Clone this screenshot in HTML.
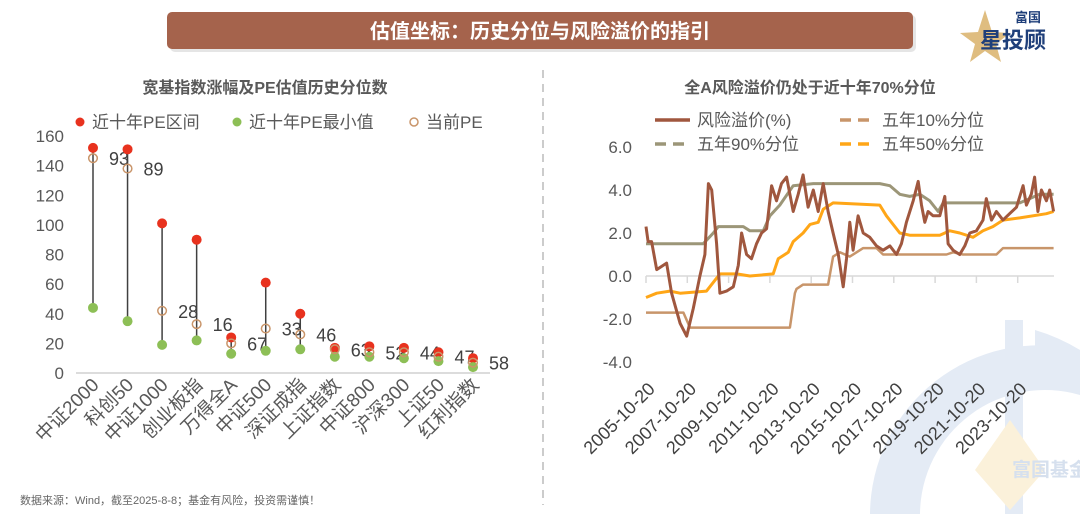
<!DOCTYPE html>
<html><head><meta charset="utf-8">
<style>
body{margin:0;width:1080px;height:514px;overflow:hidden;background:#fff;font-family:"Liberation Sans","Noto Sans CJK SC",sans-serif;}
svg{position:absolute;left:0;top:0}
</style></head>
<body>
<svg id="s" width="1080" height="514" viewBox="0 0 1080 514" xmlns="http://www.w3.org/2000/svg">
<g>
<path d="M870,514 A170,170 0 0 1 1080,350 L1080,395 A125,125 0 0 0 920,514 Z" fill="#E4EBF5"/>
<rect x="1005" y="320" width="18" height="194" fill="#E4EBF5"/>
<path d="M1035,330 A190,190 0 0 1 1080,350 L1080,380 A170,170 0 0 0 1035,360 Z" fill="#E4EBF5"/>
<path d="M1010,420 L1045,470 L1010,510 L975,470 Z" fill="#FBF1DA"/>
<text x="1012" y="476" font-size="19" font-weight="bold" fill="#D6E0EE" font-family="Liberation Sans, Noto Sans CJK SC, sans-serif">富国基金</text>
</g>
<g>
<rect x="170" y="15" width="746" height="37" rx="5" fill="#ccc" opacity="0.5"/>
<rect x="167" y="12" width="746" height="37" rx="5" fill="#A5634C"/>
<text x="540" y="38" text-anchor="middle" font-size="20" font-weight="bold" fill="#fff">估值坐标：历史分位与风险溢价的指引</text>
</g>
<g>
<path d="M985,10 L992,32 L1010,33 L996,44 L1001,62 L985,51 L970,62 L975,44 L960,33 L978,32 Z" fill="#D9B26A" opacity="0.85"/>
<text x="1015" y="22" font-size="13" font-weight="bold" fill="#1F3F7A">富国</text>
<text x="980" y="48" font-size="22" font-weight="bold" fill="#1F3F7A">星投顾</text>
</g>
<line x1="543" y1="70" x2="543" y2="505" stroke="#bbb" stroke-width="1.5" stroke-dasharray="8,6"/>
<text x="265" y="93" text-anchor="middle" font-size="16" font-weight="bold" fill="#595959">宽基指数涨幅及PE估值历史分位数</text>
<text x="810" y="93" text-anchor="middle" font-size="16" font-weight="bold" fill="#595959">全A风险溢价仍处于近十年70%分位</text>
<g id="left"></g>
<g id="right"></g>
<text x="20" y="504" font-size="11" fill="#666">数据来源：Wind，截至2025-8-8；基金有风险，投资需谨慎！</text>
</svg>
<script>
const categories=["中证2000","科创50","中证1000","创业板指","万得全A","中证500","深证成指","上证指数","中证800","沪深300","上证50","红利指数"];
const peMax=[152,151,101,90,24,61,40,17,18,17,14,10];
const peMin=[44,35,19,22,13,15,16,11,11,10,8,4];
const peCur=[145,138,42,33,20,30,26,16,14,14,11,7];
const pctLabels=[93,89,28,16,67,33,46,63,52,44,47,58];
const yTicksL=[0,20,40,60,80,100,120,140,160];

const rpDates=[2005.8,2005.9,2006.07,2006.32,2006.8,2007.04,2007.45,2007.77,2008.09,2008.41,2008.65,2008.82,2008.98,2009.22,2009.38,2009.7,2010.03,2010.27,2010.43,2010.67,2010.91,2011.15,2011.4,2011.64,2011.88,2012.12,2012.36,2012.61,2012.93,2013.17,2013.41,2013.65,2013.9,2014.14,2014.38,2014.62,2014.86,2015.11,2015.35,2015.51,2015.67,2015.83,2016.07,2016.32,2016.64,2016.96,2017.28,2017.61,2017.93,2018.17,2018.41,2018.74,2018.98,2019.14,2019.3,2019.46,2019.7,2020.03,2020.27,2020.43,2020.67,2020.99,2021.24,2021.48,2021.8,2022.12,2022.28,2022.53,2022.77,2023.09,2023.41,2023.74,2024.06,2024.22,2024.46,2024.62,2024.78,2024.95,2025.19,2025.35,2025.54];
const rpValues=[2.3,1.6,1.6,0.3,0.6,-0.8,-2.2,-2.8,-1.5,0.0,1.0,4.3,4.0,1.5,-0.8,-0.7,-0.5,0.5,2.0,1.0,0.8,1.5,2.0,2.2,4.2,3.5,4.3,4.6,3.0,3.8,4.7,3.2,4.0,3.0,4.3,3.0,2.0,1.0,-0.5,0.8,2.5,1.2,2.8,2.0,1.8,1.4,1.2,1.4,1.0,1.5,2.5,3.5,4.4,3.3,2.5,3.0,2.8,2.8,3.7,1.5,1.2,1.0,1.4,2.0,2.1,2.6,3.6,2.6,3.0,2.6,2.9,3.2,4.2,3.3,3.8,4.6,3.0,4.0,3.5,4.0,3.0];
const p90Dates=[2005.8,2008.57,2009.06,2009.3,2010.51,2010.83,2011.48,2011.8,2012.28,2012.93,2013.9,2017.12,2017.61,2018.09,2018.57,2019.06,2019.54,2019.95,2020.19,2023.9,2024.38,2024.86,2025.54];
const p90Values=[1.5,1.5,2.0,2.3,2.3,2.1,2.1,2.8,3.3,4.2,4.3,4.3,4.2,3.8,3.7,3.8,3.5,3.0,3.4,3.4,3.6,3.8,3.8];
const p50Dates=[2005.8,2006.32,2006.96,2007.45,2008.73,2009.38,2010.19,2010.83,2011.96,2012.2,2012.69,2012.93,2013.41,2013.74,2014.14,2014.38,2014.86,2017.12,2017.44,2018.09,2018.57,2020.03,2020.51,2020.99,2021.64,2022.12,2022.6,2023.09,2023.9,2025.19,2025.54];
const p50Values=[-1.0,-0.8,-0.7,-0.8,-0.7,0.1,0.1,0.0,0.1,0.8,1.1,1.6,2.0,2.4,2.5,3.1,3.4,3.3,2.8,2.0,1.9,1.9,2.1,2.0,1.8,2.1,2.3,2.6,2.7,2.9,3.0];
const p10Dates=[2005.8,2007.61,2007.93,2012.77,2013.01,2013.09,2013.41,2014.62,2014.86,2015.19,2015.67,2016.32,2016.96,2017.28,2020.35,2020.67,2021.15,2022.77,2023.09,2025.54];
const p10Values=[-1.7,-1.7,-2.4,-2.4,-0.8,-0.6,-0.4,-0.4,0.9,1.1,0.9,1.3,1.3,1.0,1.0,1.1,1.0,1.0,1.3,1.3];
const yTicksR=[-4,-2,0,2,4,6];
const dateTicks=["2005-10-20","2007-10-20","2009-10-20","2011-10-20","2013-10-20","2015-10-20","2017-10-20","2019-10-20","2021-10-20","2023-10-20"];

const NS="http://www.w3.org/2000/svg";
function mk(parent,tag,attrs,text){const e=document.createElementNS(NS,tag);for(const k in attrs)e.setAttribute(k,attrs[k]);if(text!==undefined)e.textContent=text;parent.appendChild(e);return e;}
const FONT='"Liberation Sans","Noto Sans CJK SC",sans-serif';

const L=document.getElementById('left');
const xL=i=>93+i*(380/(categories.length-1));
const yL=v=>373-v*(237/160);
yTicksL.forEach(t=>{const e=mk(L,'text',{x:64,y:yL(t)+6,'text-anchor':'end','font-size':17,fill:'#595959','font-family':FONT},t);

});
const ax=mk(L,'line',{x1:76,y1:373,x2:490,y2:373,stroke:'#d0d0d0','stroke-width':1.5});


categories.forEach((c,i)=>{
  const x=xL(i);
  const ln=mk(L,'line',{x1:x,y1:yL(peMax[i]),x2:x,y2:yL(peMin[i]),stroke:'#404040','stroke-width':1.5});
  
  
  const a=mk(L,'circle',{cx:x,cy:yL(peMax[i]),r:5,fill:'#E8321E'});
  
  
  const b=mk(L,'circle',{cx:x,cy:yL(peMin[i]),r:5,fill:'#8DBF56'});
  
  
  const d=mk(L,'circle',{cx:x,cy:yL(peCur[i]),r:4.3,fill:'none',stroke:'#C9956A','stroke-width':1.5});
  
  
  const t=mk(L,'text',{x:x+26,y:yL(peCur[i])+7,'text-anchor':'middle','font-size':18,fill:'#404040','font-family':FONT},pctLabels[i]);
  
  
  const cl=mk(L,'text',{x:0,y:0,'text-anchor':'end','font-size':19,fill:'#595959','font-family':FONT,transform:`translate(${x+7},${386}) rotate(-45)`},c);
  
  
});
const legL=[['近十年PE区间',80,'max'],['近十年PE最小值',237,'min'],['当前PE',414,'cur']];
legL.forEach(([txt,x,k])=>{
  let m;
  if(k==='max')m=mk(L,'circle',{cx:x,cy:122,r:4.5,fill:'#E8321E'});
  else if(k==='min')m=mk(L,'circle',{cx:x,cy:122,r:4.5,fill:'#8DBF56'});
  else m=mk(L,'circle',{cx:x,cy:122,r:4,fill:'none',stroke:'#C9956A','stroke-width':1.5});
  
  
  const t=mk(L,'text',{x:x+12,y:128,'font-size':17,fill:'#595959','font-family':FONT},txt);
  
  
});

const R=document.getElementById('right');
const xR=t=>646+(t-2005.8)*20.65;
const yR=v=>276-v*21.5;
yTicksR.forEach(t=>{const e=mk(R,'text',{x:632,y:yR(t)+6,'text-anchor':'end','font-size':17,fill:'#595959','font-family':FONT},t.toFixed(1));

});
const axr=mk(R,'line',{x1:646,y1:yR(0),x2:1054,y2:yR(0),stroke:'#d9d9d9','stroke-width':1.5});


dateTicks.forEach((d,i)=>{
  const yr=parseInt(d.slice(0,4))+0.8;const x=xR(yr);
  const tk=mk(R,'line',{x1:x,y1:yR(0),x2:x,y2:yR(0)+7,stroke:'#d9d9d9','stroke-width':1.5});
  
  
  const t=mk(R,'text',{x:0,y:0,'text-anchor':'end','font-size':18,fill:'#404040','font-family':FONT,transform:`translate(${x+10},${390}) rotate(-45)`},d);
  
  
});
function line(dates,vals,color,w,name){
  const pts=dates.map((t,i)=>xR(t).toFixed(1)+','+yR(vals[i]).toFixed(1)).join(' ');
  const p=mk(R,'polyline',{points:pts,fill:'none',stroke:color,'stroke-width':w,'stroke-linejoin':'round'});
  
  
}
line(p10Dates,p10Values,'#C8956A',2.5,'p10-line');
line(p50Dates,p50Values,'#FFA617',3,'p50-line');
line(p90Dates,p90Values,'#9C9678',3,'p90-line');
line(rpDates,rpValues,'#A0573E',3,'risk-premium-line');
const legR=[['风险溢价(%)',655,120,'#A0573E',false],['五年10%分位',840,120,'#C8956A',true],['五年90%分位',655,144,'#9C9678',true],['五年50%分位',840,144,'#FFA617',true]];
legR.forEach(([txt,x,y,c,dash])=>{
  const m=mk(R,'line',{x1:x,y1:y,x2:x+35,y2:y,stroke:c,'stroke-width':3.5});
  if(dash)m.setAttribute('stroke-dasharray','11,7');
  
  
  const t=mk(R,'text',{x:x+42,y:y+6,'font-size':17,fill:'#595959','font-family':FONT},txt);
  
  
});
</script>
</body></html>
